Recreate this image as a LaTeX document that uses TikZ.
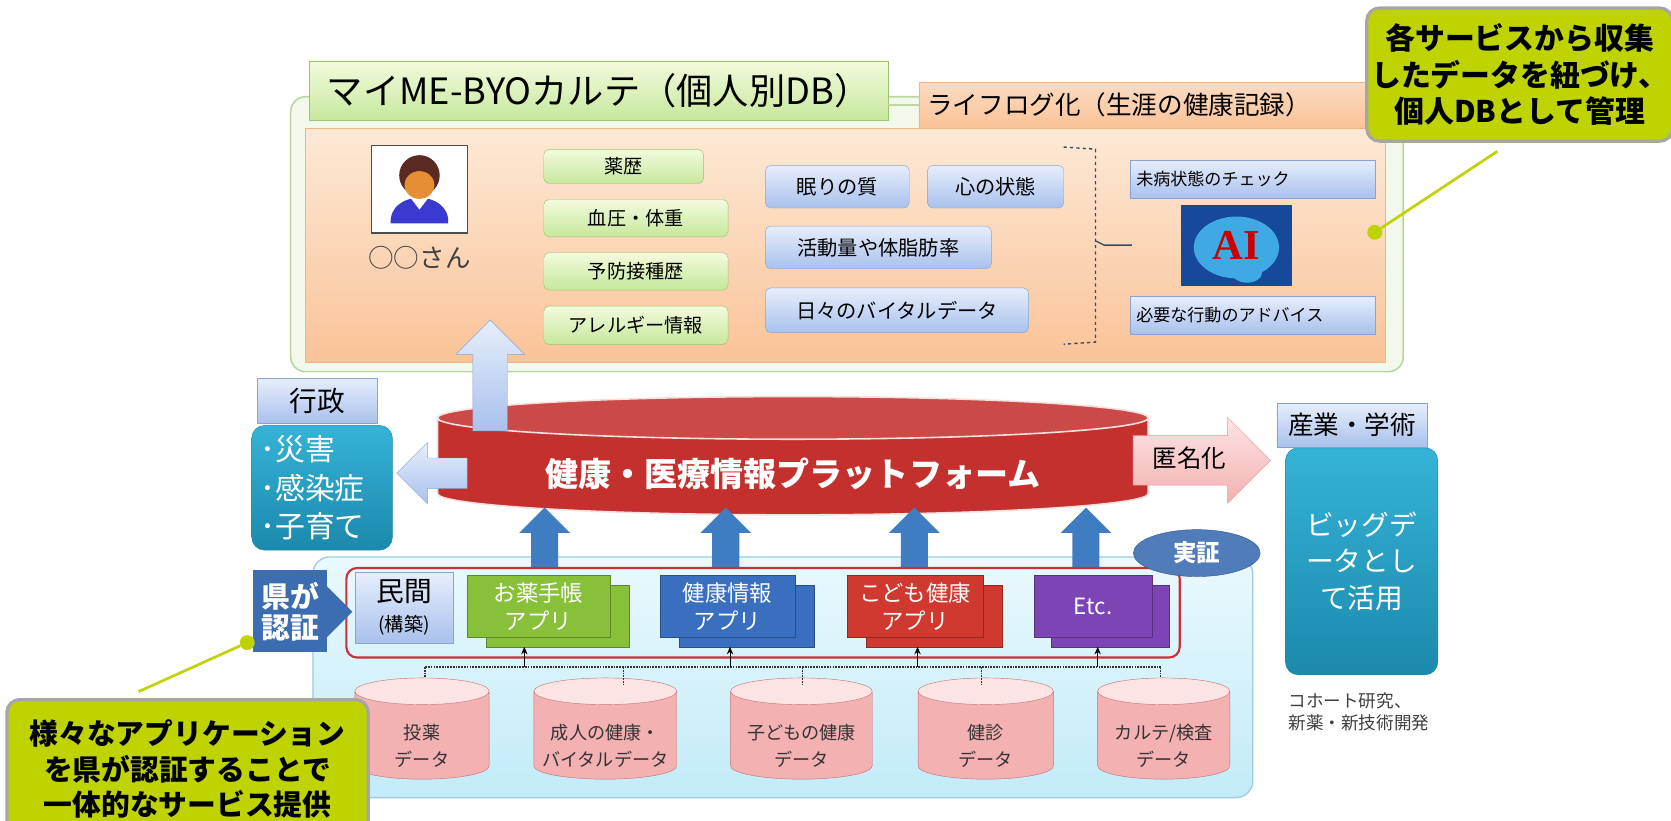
\documentclass[tikz,border=0pt]{standalone}
\usepackage{fontspec}
\setmainfont{Noto Sans CJK JP}
\newfontfamily\aifont{Liberation Serif}
\usetikzlibrary{shapes.geometric,shapes.arrows,positioning,arrows.meta}

\definecolor{cardline}{HTML}{BCD5A2}
\definecolor{cardfill}{HTML}{F3F9EA}
\definecolor{leafA}{HTML}{F3FBDD}
\definecolor{leafB}{HTML}{C6E79C}
\definecolor{leafline}{HTML}{9EC270}
\definecolor{peachA}{HTML}{FDE9D6}
\definecolor{peachB}{HTML}{FAC398}
\definecolor{peachline}{HTML}{EFB587}
\definecolor{skyA}{HTML}{E6EEFC}
\definecolor{skyB}{HTML}{A9C1EC}
\definecolor{skyline}{HTML}{8BA3CE}
\definecolor{tealA}{HTML}{35B3D6}
\definecolor{tealB}{HTML}{1B89AC}
\definecolor{platred}{HTML}{C4302D}
\definecolor{roseA}{HTML}{FDE4E4}
\definecolor{roseB}{HTML}{F3B1B1}
\definecolor{roseline}{HTML}{C97070}
\definecolor{steel}{HTML}{3E7DC1}
\definecolor{iceA}{HTML}{EAF9FD}
\definecolor{iceB}{HTML}{C2EBF8}
\definecolor{iceline}{HTML}{9CCBE0}
\definecolor{prefblue}{HTML}{3D6DB1}
\definecolor{frame}{HTML}{C8303A}
\definecolor{appgreen}{HTML}{88C03A}
\definecolor{appblue}{HTML}{3A6FC0}
\definecolor{appred}{HTML}{D0392F}
\definecolor{apppurple}{HTML}{7C44B4}
\definecolor{notefill}{HTML}{BED300}
\definecolor{noteline}{HTML}{A6A6A6}
\definecolor{aiblue}{HTML}{17489A}
\definecolor{brain}{HTML}{3FA9E3}
\definecolor{hair}{HTML}{5A2A22}
\definecolor{skin}{HTML}{E58E35}
\definecolor{suit}{HTML}{3A3AD0}
\definecolor{brace}{HTML}{3A4A6A}

\newcommand{\fsz}[2]{\fontsize{#1}{#2}\selectfont}

\tikzset{
  box/.style={anchor=north west, inner sep=0pt, align=center},
  leaf/.style={box, draw=leafline, top color=leafA, bottom color=leafB, rounded corners=5pt, font=\fsz{18}{22}},
  sky/.style={box, draw=skyline, top color=skyA, bottom color=skyB, rounded corners=5pt, font=\fsz{19}{22}},
  flat sky/.style={box, draw=skyline, top color=skyA, bottom color=skyB, font=\fsz{16}{20}},
  teal/.style={box, draw=tealB, top color=tealA, bottom color=tealB, rounded corners=12pt, text=white},
  pale arrow/.style={single arrow, draw=skyline, top color=skyA, bottom color=skyB, inner sep=0pt},
  lift/.style={single arrow, shape border rotate=90, fill=steel, inner sep=12.5pt,
    single arrow head extend=11pt, minimum height=56pt, anchor=tip},
  app/.style={box, draw=#1!70!black, fill=#1, minimum height=58pt, text=white, font=\fsz{21}{27}},
  drum/.style={cylinder, shape border rotate=90, draw=roseline, cylinder uses custom fill,
    cylinder body fill=roseB, cylinder end fill=roseA, aspect=0.25, inner sep=0pt,
    minimum height=95pt},
  drum text/.style={yshift=-10pt, align=center, font=\fsz{17}{25}, text=black!80},
  bus/.style={densely dotted, line width=1.6pt, black!80},
  tap/.style={-{Stealth[length=7pt,width=6pt]}, thick, black},
  note/.style={box, draw=noteline, fill=notefill, line width=3pt, rounded corners=12pt},
  leader/.style={notefill, line width=2.5pt},
  dot/.style={circle, fill=notefill, inner sep=0pt, minimum size=14pt},
}

\begin{document}
\begin{tikzpicture}[x=1pt,y=-1pt]
  \useasboundingbox (0,0) rectangle (1568,770);
  \fill[white] (0,0) rectangle (1568,770);

  % personal record card
  \node[box, draw=cardline, fill=cardfill, line width=1.5pt, rounded corners=14pt,
        minimum width=1044pt, minimum height=258pt] (card) at (272,90) {};
  \node[box, draw=peachline, top color=peachA, bottom color=peachB,
        minimum width=1014pt, minimum height=220pt] (panel) at (286,120) {};
  \node[box, draw=leafline, top color=leafA, bottom color=leafB, font=\fsz{34}{36},
        minimum width=543pt, minimum height=56pt] (title) at (290,57) {マイME-BYOカルテ（個人別DB）};
  \node[box, draw=peachline, top color=peachB!60, bottom color=peachB, font=\fsz{24}{26},
        minimum width=440pt, minimum height=43pt, text width=424pt, align=left] (life) at (862,77) {ライフログ化（生涯の健康記録）};
  \draw[cardline, line width=1.5pt] (life.west -| title.east) -- (life.west);

  % the person
  \node[box, draw=black!70, fill=white, line width=1.2pt, minimum width=90pt, minimum height=82pt] (face) at (348,136) {};
  \begin{scope}[shift={(face.center)}]
    \fill[suit] (-27,32) .. controls (-29,0) and (29,0) .. (27,32) -- cycle;
    \fill[white] (-10,6) -- (0,19) -- (10,6) -- cycle;
    \fill[hair] (0,-13) circle[radius=19];
    \fill[skin] (0,-4) ellipse[x radius=14, y radius=13];
  \end{scope}
  \node[below=8pt of face, font=\fsz{24}{26}, text=black!75] (name) {○○さん};

  % recorded items
  \node[leaf, minimum width=150pt, minimum height=32pt] (drug) at (510,140) {薬歴};
  \node[leaf, minimum width=173pt, minimum height=35pt] (bp) at (510,187) {血圧・体重};
  \node[leaf, minimum width=173pt, minimum height=35pt] (vacc) at (510,237) {予防接種歴};
  \node[leaf, minimum width=173pt, minimum height=36pt] (allergy) at (510,287) {アレルギー情報};

  \node[sky, minimum width=135pt, minimum height=40pt] (sleep) at (718,155) {眠りの質};
  \node[sky, minimum width=128pt, minimum height=40pt] (mind) at (870,155) {心の状態};
  \node[sky, minimum width=212pt, minimum height=40pt] (activity) at (718,212) {活動量や体脂肪率};
  \node[sky, minimum width=247pt, minimum height=42pt] (vital) at (718,270) {日々のバイタルデータ};

  % bracket
  \coordinate (brtop) at (998,138);
  \coordinate (brbot) at (998,323);
  \coordinate (brtip) at (1062,230);
  \draw[brace, dashed, line width=1.3pt] (brtop) -- (1028,140) -- (1028,321) -- (brbot);
  \draw[brace, line width=1.3pt] (1028,226) -- (1036,230) -- (brtip);

  % AI column
  \node[flat sky, minimum width=230pt, minimum height=36pt, text width=218pt, align=left] (check) at (1060,150) {未病状態のチェック};
  \node[box, fill=aiblue, minimum width=104pt, minimum height=76pt] (ai) at (1108,192) {};
  \fill[brain] ([yshift=-2pt]ai.center) ellipse[x radius=40, y radius=29];
  \fill[brain] ([xshift=10pt,yshift=-26pt]ai.center) ellipse[x radius=14, y radius=9];
  \node[font=\aifont\bfseries\fsz{40}{40}, text=red!80!black] (ailabel) at (ai.center) {AI};
  \node[flat sky, minimum width=230pt, minimum height=35pt, text width=218pt, align=left] (advice) at (1060,278) {必要な行動のアドバイス};

  % administration side
  \node[teal, minimum width=132pt, minimum height=117pt, text width=116pt, align=left,
        font=\fsz{28}{36}] (govuse) at (236,399) {･災害\\･感染症\\･子育て};
  \node[box, draw=skyline, top color=skyA, bottom color=skyB, font=\fsz{26}{28},
        minimum width=113pt, minimum height=42pt] (gov) at (241,355) {行政};

  % bottom field
  \node[box, draw=iceline, top color=iceA, bottom color=iceB, rounded corners=16pt, line width=1.2pt,
        minimum width=882pt, minimum height=226pt] (field) at (293,522) {};

  % platform
  \node[cylinder, shape border rotate=90, draw=white!85!platred, line width=1.5pt,
        cylinder uses custom fill, cylinder body fill=platred, cylinder end fill=platred!88!white,
        aspect=0.0667, minimum width=667pt, minimum height=111pt, inner sep=0pt,
        label={[yshift=-7pt, text=white, font=\bfseries\fsz{31}{31}]center:健康・医療情報プラットフォーム}] (pf) at (744,438) {\rule{600pt}{0pt}};

  \node[pale arrow, shape border rotate=90, inner sep=16pt, single arrow head extend=16pt,
        minimum height=104pt, anchor=tip] (up) at (460,300) {};
  \node[pale arrow, shape border rotate=180, inner sep=14pt, single arrow head extend=14.5pt,
        minimum height=66pt, anchor=tip] (back) at (372,444) {};
  \node[single arrow, draw=roseB!80!red, top color=roseA, bottom color=roseB, inner xsep=8pt, inner ysep=12pt,
        text height=18pt, text depth=4pt, single arrow head extend=17pt, minimum height=129pt,
        anchor=tail, font=\fsz{23}{26}] (anon) at (1063,432) {匿名化};

  % industry side
  \node[teal, minimum width=143pt, minimum height=213pt, text width=120pt, font=\fsz{26}{34}] (bigdata) at (1206,420) {ビッグデ\\ータとし\\て活用};
  \node[box, draw=skyline, top color=skyA, bottom color=skyB, font=\fsz{24}{26},
        minimum width=141pt, minimum height=41pt] (ind) at (1198,378) {産業・学術};
  \node[box, align=left, font=\fsz{16.5}{20}, text=black!75] (cohort) at (1209,650) {コホート研究、\\新薬・新技術開発};

  % pushes into the platform
  \node[lift] (lift1) at (511,476) {};
  \node[lift] (lift2) at (681,476) {};
  \node[lift] (lift3) at (858,476) {};
  \node[lift] (lift4) at (1019,476) {};

  % certified apps
  \node[box, draw=frame, line width=2pt, rounded corners=10pt,
        minimum width=782pt, minimum height=84pt] (cert) at (324,532) {};
  \node[ellipse, draw=prefblue!80!black, fill=prefblue!90, text=white, font=\bfseries\fsz{22}{24},
        minimum width=119pt, minimum height=44pt, inner sep=0pt] (proof) at (1123,519) {実証};

  \node[single arrow, fill=prefblue, inner sep=11.5pt, single arrow head extend=19pt,
        minimum height=36pt, anchor=tip] (prefarrow) at (331,574) {};
  \node[box, fill=prefblue, text=white, font=\bfseries\fsz{27}{29},
        minimum width=70pt, minimum height=77pt] (pref) at (237,535) {県が\\認証};
  \node[box, draw=skyline, top color=skyA, bottom color=skyB, font=\fsz{26}{28},
        minimum width=92pt, minimum height=66pt] (private) at (333,537) {民間\\{\fsz{18}{22}(構築)}};

  \node[app=appgreen, minimum width=134pt] (medB) at (456,549) {};
  \node[app=appgreen, minimum width=134pt] (med) at (438,540) {お薬手帳\\アプリ};
  \node[app=appblue, minimum width=127pt] (infoB) at (637,549) {};
  \node[app=appblue, minimum width=127pt] (info) at (619,540) {健康情報\\アプリ};
  \node[app=appred, minimum width=127pt] (kidB) at (813,549) {};
  \node[app=appred, minimum width=127pt] (kid) at (795,540) {こども健康\\アプリ};
  \node[app=apppurple, minimum width=111pt] (etcB) at (986,549) {};
  \node[app=apppurple, minimum width=111pt] (etc) at (970,540) {Etc.};

  % data stores
  \node[drum, minimum width=126pt, label={[drum text]center:投薬\\データ}] (db1) at (396,690) {\rule{100pt}{0pt}};
  \node[drum, minimum width=134pt, label={[drum text]center:成人の健康・\\バイタルデータ}] (db2) at (568,690) {\rule{100pt}{0pt}};
  \node[drum, minimum width=133pt, label={[drum text]center:子どもの健康\\データ}] (db3) at (752,690) {\rule{100pt}{0pt}};
  \node[drum, minimum width=127pt, label={[drum text]center:健診\\データ}] (db4) at (925,690) {\rule{100pt}{0pt}};
  \node[drum, minimum width=124pt, label={[drum text]center:カルテ/検査\\データ}] (db5) at (1092,690) {\rule{100pt}{0pt}};

  \coordinate (busL) at (399,626);
  \coordinate (busR) at (1089,626);
  \draw[bus] (busL) -- (busR);
  \draw[bus] (busL) -- (busL |- db1.north);
  \draw[bus] (585,626) -- (585,643);
  \draw[bus] (753,626) -- (753,643);
  \draw[bus] (921,626) -- (921,643);
  \draw[bus] (busR) -- (busR |- db5.north);
  \draw[tap] (492,626) -- (492,607);
  \draw[tap] (685,626) -- (685,607);
  \draw[tap] (861,626) -- (861,607);
  \draw[tap] (1030,626) -- (1030,607);

  % call-outs
  \node[note, minimum width=287pt, minimum height=125pt, font=\bfseries\fsz{28}{34.5}] (note1) at (1281,6)
    {各サービスから収集\\したデータを紐づけ、\\個人DBとして管理};
  \node[dot] (dot1) at (1290,218) {};
  \coordinate (lead1) at (1405,142);
  \draw[leader] (lead1) -- (dot1);

  \node[note, minimum width=339pt, minimum height=130pt, font=\bfseries\fsz{27}{33.5}] (note2) at (5,655)
    {様々なアプリケーション\\を県が認証することで\\一体的なサービス提供};
  \node[dot] (dot2) at (232,603) {};
  \coordinate (lead2) at (130,649);
  \draw[leader] (lead2) -- (dot2);
\end{tikzpicture}
\end{document}
